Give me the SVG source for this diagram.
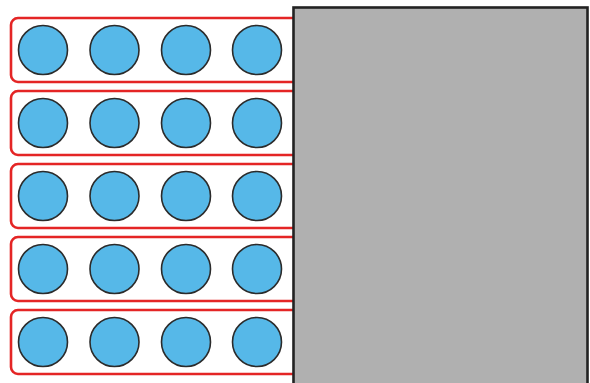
<svg xmlns="http://www.w3.org/2000/svg" width="590" height="383" viewBox="0 0 590 383">
<style>
.row{fill:none;stroke:#e42525;stroke-width:2.6}
.c{fill:#56b8e8;stroke:#2b2b2b;stroke-width:1.6}
.panel{fill:#b0b0b0;stroke:#222;stroke-width:2.6}
</style>
<rect width="590" height="383" fill="#fff"/>
<g id="row1"><rect class="row" x="11" y="18" width="300" height="64" rx="7"/><circle class="c" cx="43" cy="50" r="24.5"/><circle class="c" cx="114.5" cy="50" r="24.5"/><circle class="c" cx="186" cy="50" r="24.5"/><circle class="c" cx="257" cy="50" r="24.5"/></g>
<g id="row2"><rect class="row" x="11" y="91" width="300" height="64" rx="7"/><circle class="c" cx="43" cy="123" r="24.5"/><circle class="c" cx="114.5" cy="123" r="24.5"/><circle class="c" cx="186" cy="123" r="24.5"/><circle class="c" cx="257" cy="123" r="24.5"/></g>
<g id="row3"><rect class="row" x="11" y="164" width="300" height="64" rx="7"/><circle class="c" cx="43" cy="196" r="24.5"/><circle class="c" cx="114.5" cy="196" r="24.5"/><circle class="c" cx="186" cy="196" r="24.5"/><circle class="c" cx="257" cy="196" r="24.5"/></g>
<g id="row4"><rect class="row" x="11" y="237" width="300" height="64" rx="7"/><circle class="c" cx="43" cy="269" r="24.5"/><circle class="c" cx="114.5" cy="269" r="24.5"/><circle class="c" cx="186" cy="269" r="24.5"/><circle class="c" cx="257" cy="269" r="24.5"/></g>
<g id="row5"><rect class="row" x="11" y="310" width="300" height="64" rx="7"/><circle class="c" cx="43" cy="342" r="24.5"/><circle class="c" cx="114.5" cy="342" r="24.5"/><circle class="c" cx="186" cy="342" r="24.5"/><circle class="c" cx="257" cy="342" r="24.5"/></g>
<g id="panel"><rect class="panel" x="293.5" y="7.5" width="294" height="390"/></g>
</svg>
